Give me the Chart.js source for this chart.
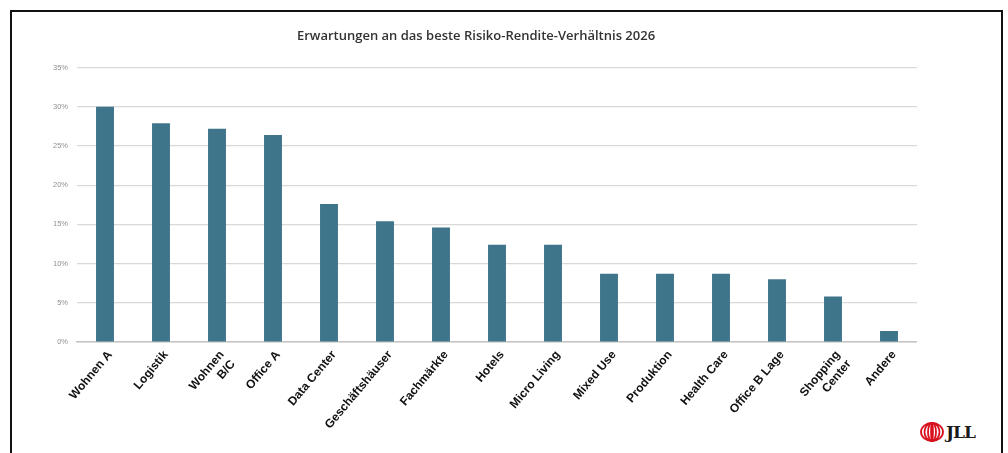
<!DOCTYPE html>
<html lang="de">
<head>
<meta charset="UTF-8">
<title>Erwartungen an das beste Risiko-Rendite-Verhältnis 2026</title>
<script src="https://cdn.jsdelivr.net/npm/chart.js@4.4.1/dist/chart.umd.min.js"></script>
<style>
  html, body { margin: 0; padding: 0; background: #fff; width: 1008px; height: 453px; overflow: hidden; }
  .frame { position: absolute; left: 10px; top: 10px; width: 993px; height: 470px; border: 2px solid #111; box-sizing: border-box; }
  .chart-box { position: absolute; left: 35px; top: 13px; width: 882px; height: 440px; }
  .logo { position: absolute; left: 920px; top: 422px; display: flex; align-items: center; gap: 2px; }
  .logo span { font-family: "DejaVu Serif", "Liberation Serif", serif; font-weight: bold; font-size: 17px; color: #1a1a1a; letter-spacing: -1px; }
</style>
</head>
<body>
<div class="frame"></div>
<div class="chart-box"><canvas id="chart"></canvas></div>
<div class="logo">
  <svg width="24" height="20" viewBox="0 0 24 20">
    <g fill="none" stroke="#d8101e" stroke-width="1.8">
      <ellipse cx="12" cy="10" rx="11" ry="9"/>
      <ellipse cx="12" cy="10" rx="7.5" ry="9"/>
      <ellipse cx="12" cy="10" rx="4" ry="9"/>
      <ellipse cx="12" cy="10" rx="0.9" ry="9"/>
    </g>
  </svg>
  <span>JLL</span>
</div>
<script>
const categories = [
  'Wohnen A', 'Logistik', ['Wohnen', 'B/C'], 'Office A', 'Data Center',
  'Geschäftshäuser', 'Fachmärkte', 'Hotels', 'Micro Living', 'Mixed Use',
  'Produktion', 'Health Care', 'Office B Lage', ['Shopping', 'Center'], 'Andere'
];
const shares = [30.0, 27.9, 27.2, 26.4, 17.6, 15.4, 14.6, 12.4, 12.4, 8.7, 8.7, 8.7, 8.0, 5.8, 1.4];
const yTicks = [0, 5, 10, 15, 20, 25, 30, 35];

new Chart(document.getElementById('chart'), {
  type: 'bar',
  data: {
    labels: categories,
    datasets: [{
      data: shares,
      backgroundColor: '#3e758a',
      barPercentage: 0.32,
      categoryPercentage: 1.0
    }]
  },
  options: {
    responsive: true,
    maintainAspectRatio: false,
    animation: false,
    layout: { padding: 0 },
    plugins: {
      legend: { display: false },
      tooltip: { enabled: false },
      title: {
        display: true,
        text: 'Erwartungen an das beste Risiko-Rendite-Verhältnis 2026',
        color: '#333',
        font: { family: 'Open Sans', size: 13, weight: '600' },
        padding: { top: 15, bottom: 24 }
      }
    },
    scales: {
      x: {
        grid: { display: false, drawTicks: false },
        border: { color: '#c4c4c4', width: 1.5 },
        ticks: {
          color: '#111',
          font: { family: 'Liberation Sans', size: 12, weight: 'bold' },
          minRotation: 50,
          maxRotation: 50,
          autoSkip: false,
          labelOffset: 5,
          padding: 6
        },
        afterFit: s => { s.height = 111; }
      },
      y: {
        min: 0,
        max: 35,
        afterBuildTicks: s => { s.ticks = yTicks.map(v => ({ value: v })); },
        grid: { color: '#d9d9d9', lineWidth: 1.2, drawTicks: false },
        border: { display: false },
        ticks: {
          color: '#8f8f8f',
          font: { family: 'Liberation Sans', size: 7.5 },
          padding: 9,
          callback: v => v + '%'
        },
        afterFit: s => { s.width = 42; }
      }
    }
  }
});
</script>
</body>
</html>
